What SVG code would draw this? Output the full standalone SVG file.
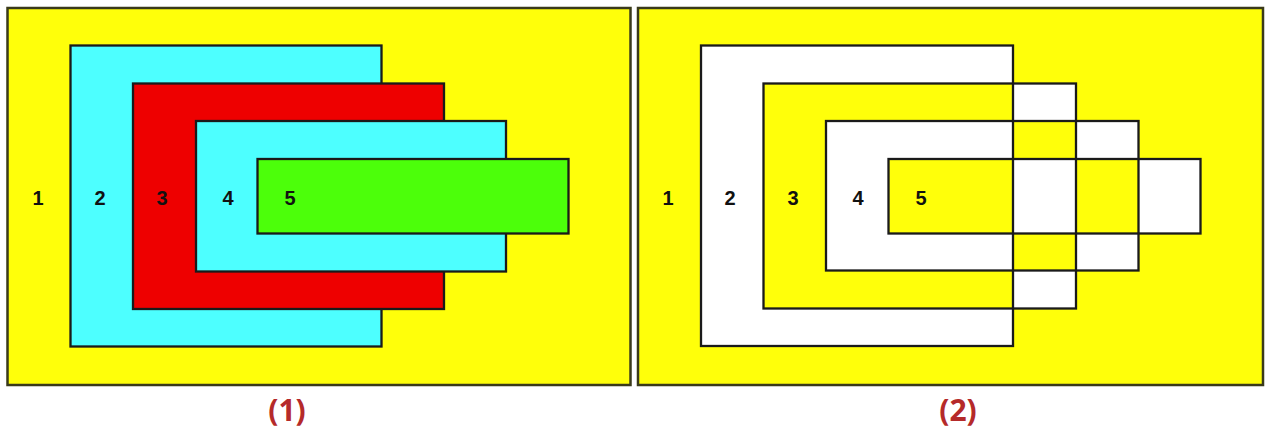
<svg xmlns="http://www.w3.org/2000/svg" width="1268" height="439" viewBox="0 0 1268 439">
<style>
.frame{fill:#ffff0a;stroke:#3a3a1a;stroke-width:2.5}
.r{stroke:#1a1a1a;stroke-width:2.3}
.lbl{font-family:"Liberation Sans",Arial,sans-serif;font-weight:bold;font-size:20px;fill:#111;text-anchor:middle}
.cap{font-family:"Open Sans","Liberation Sans",Arial,sans-serif;font-weight:bold;font-size:30px;fill:#b52a2a;text-anchor:middle}
</style>
<rect width="1268" height="439" fill="#ffffff"/>
<g id="panel1">
  <rect id="p1-r1" class="frame" x="7.5" y="8" width="623" height="377"/>
  <rect id="p1-r2" class="r" x="70.5" y="45.5" width="311" height="301" fill="#4dffff"/>
  <rect id="p1-r3" class="r" x="133" y="83.5" width="311" height="225.5" fill="#ee0000"/>
  <rect id="p1-r4" class="r" x="196" y="121" width="310" height="150.5" fill="#4dffff"/>
  <rect id="p1-r5" class="r" x="257.5" y="159" width="311" height="74.5" fill="#4cff0a"/>
  <g id="p1-labels">
    <text class="lbl" x="38" y="205">1</text>
    <text class="lbl" x="100" y="205">2</text>
    <text class="lbl" x="162" y="205">3</text>
    <text class="lbl" x="228" y="205">4</text>
    <text class="lbl" x="290" y="205">5</text>
  </g>
  <text id="cap1" class="cap" x="287" y="421">(1)</text>
</g>
<g id="panel2">
  <rect id="p2-r1" class="frame" x="638" y="8" width="625" height="377"/>
  <path id="p2-fill" fill="#ffffff" fill-rule="evenodd" d="M701 45.5H1013V346H701Z M763.5 83.5H1076V308.5H763.5Z M826 121H1138.5V270.5H826Z M888.5 159H1200.5V233.5H888.5Z"/>
  <g fill="none">
    <rect id="p2-r2" class="r" x="701" y="45.5" width="312" height="300.5"/>
    <rect id="p2-r3" class="r" x="763.5" y="83.5" width="312.5" height="225"/>
    <rect id="p2-r4" class="r" x="826" y="121" width="312.5" height="149.5"/>
    <rect id="p2-r5" class="r" x="888.5" y="159" width="312" height="74.5"/>
  </g>
  <g id="p2-labels">
    <text class="lbl" x="668" y="205">1</text>
    <text class="lbl" x="730" y="205">2</text>
    <text class="lbl" x="793" y="205">3</text>
    <text class="lbl" x="858" y="205">4</text>
    <text class="lbl" x="921" y="205">5</text>
  </g>
  <text id="cap2" class="cap" x="958" y="421">(2)</text>
</g>
</svg>
